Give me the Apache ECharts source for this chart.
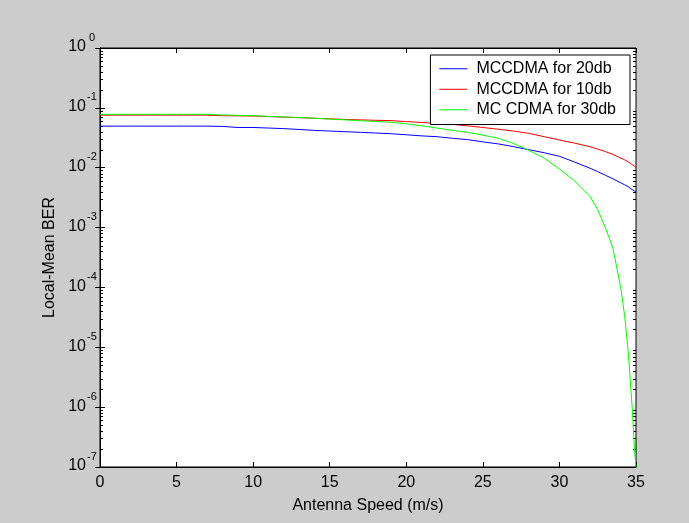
<!DOCTYPE html>
<html>
<head>
    <meta charset="UTF-8">
    <title>Local-Mean BER vs Antenna Speed</title>
    <script type="text/javascript" src="https://cdn.jsdelivr.net/npm/echarts@6/dist/echarts.min.js"></script>
</head>
<body style="margin: 0;overflow: hidden;background: #cccccc;">
<div id="chart" style="width: 689px;height: 523px;"></div>
<script type="text/javascript">
    // antenna speed (m/s)
    var speed = [0, 1, 2, 3, 4, 5, 6, 7, 8, 9, 10, 11, 12, 13, 14, 15, 16, 17, 18, 19, 20,
        21, 22, 23, 24, 25, 26, 27, 28, 29, 30, 31, 32, 32.5, 33, 33.5, 34, 34.25, 34.5, 34.75, 34.9, 35];
    var ber20db = [0.0495, 0.0495, 0.0495, 0.0495, 0.0495, 0.0495, 0.0495, 0.0495, 0.049, 0.047, 0.047,
        0.046, 0.045, 0.0435, 0.042, 0.041, 0.040, 0.039, 0.038, 0.037, 0.0355,
        0.034, 0.033, 0.031, 0.0295, 0.027, 0.025, 0.0225, 0.020, 0.0178, 0.0155,
        0.0124, 0.0098, 0.0086, 0.0075, 0.0065, 0.0056, 0.0052, 0.0048, 0.0043, 0.0041, 0.0040];
    var ber10db = [0.0755, 0.0755, 0.0755, 0.0755, 0.0755, 0.0755, 0.0755, 0.0755, 0.074, 0.0735, 0.073,
        0.0715, 0.070, 0.0685, 0.067, 0.0655, 0.064, 0.063, 0.062, 0.0612, 0.059,
        0.057, 0.055, 0.053, 0.050, 0.047, 0.044, 0.041, 0.0375, 0.033, 0.029,
        0.0257, 0.0224, 0.0205, 0.0186, 0.0167, 0.0145, 0.0136, 0.0125, 0.0113, 0.0106, 0.0100];
    var ber30db = [0.078, 0.078, 0.078, 0.078, 0.078, 0.078, 0.078, 0.078, 0.076, 0.075, 0.074,
        0.072, 0.0705, 0.069, 0.067, 0.065, 0.063, 0.061, 0.059, 0.0575, 0.054,
        0.050, 0.046, 0.042, 0.039, 0.035, 0.031, 0.0255, 0.0195, 0.0145, 0.0095,
        0.0060, 0.0033, 0.0020, 0.001, 0.00045, 0.0001, 3.5e-5, 8e-6, 1e-6, 2e-7, 1e-7];
    var seriesNames = ['MCCDMA for 20db', 'MCCDMA for 10db', 'MC CDMA for 30db'];
    var seriesColors = ['#0000ff', '#ff0000', '#00ff00'];

    // log minor tick positions (2..9 x 10^k)
    var minorTicks = [];
    for (var k = -7; k < 0; k++) {
        for (var m = 2; m <= 9; m++) {
            minorTicks.push([0, m * Math.pow(10, k)]);
        }
    }

    var font = 'Liberation Sans, Arial, sans-serif';

    function pairs(ys) {
        return speed.map(function (x, i) {
            return [x, ys[i]];
        });
    }

    function lineSeries(name, ys, color) {
        return {
            name: name,
            type: 'line',
            data: pairs(ys),
            symbol: 'none',
            lineStyle: {color: color, width: 1},
            itemStyle: {color: color},
            animation: false,
            z: 3
        };
    }

    var chart = echarts.init(document.getElementById('chart'));
    var option = {
        backgroundColor: '#cccccc',
        animation: false,
        textStyle: {fontFamily: font},
        grid: {
            left: 100, right: 53, top: 48, bottom: 56,
            show: true, backgroundColor: '#ffffff', borderColor: '#000', borderWidth: 1
        },
        legend: {
            orient: 'vertical',
            align: 'left',
            right: 59, top: 55,
            padding: [5, 14, 6, 9],
            itemGap: 3,
            itemWidth: 28,
            itemHeight: 1,
            icon: 'rect',
            backgroundColor: '#ffffff',
            borderColor: '#000',
            borderWidth: 1,
            textStyle: {fontFamily: font, fontSize: 16, color: '#000', lineHeight: 17.5, padding: [0, 0, 0, 4]},
            data: seriesNames
        },
        xAxis: [{
            type: 'value',
            min: 0, max: 35, interval: 5,
            name: 'Antenna Speed (m/s)',
            nameLocation: 'middle',
            nameGap: 31,
            nameTextStyle: {fontFamily: font, fontSize: 16, color: '#000'},
            axisLine: {lineStyle: {color: '#000'}},
            axisTick: {inside: true, length: 5, lineStyle: {color: '#000'}},
            axisLabel: {fontFamily: font, fontSize: 16, color: '#000', margin: 8},
            splitLine: {show: false}
        }, {
            type: 'value',
            position: 'top',
            min: 0, max: 35, interval: 5,
            axisLine: {lineStyle: {color: '#000'}},
            axisTick: {inside: true, length: 5, lineStyle: {color: '#000'}},
            axisLabel: {show: false},
            splitLine: {show: false}
        }],
        yAxis: [{
            type: 'log',
            logBase: 10,
            min: 1e-7, max: 1,
            name: 'Local-Mean BER',
            nameLocation: 'middle',
            nameGap: 42,
            nameTextStyle: {fontFamily: font, fontSize: 16, color: '#000'},
            axisLine: {lineStyle: {color: '#000'}},
            axisTick: {inside: true, length: 5, lineStyle: {color: '#000'}},
            axisLabel: {
                margin: 2,
                padding: [0, 0, 9, 0],
                formatter: function (v) {
                    return '{b|10}{s|' + Math.round(Math.log10(v)) + '}';
                },
                rich: {
                    b: {fontFamily: font, fontSize: 16, color: '#000', padding: [7, 0, 0, 0], verticalAlign: 'bottom'},
                    s: {fontFamily: font, fontSize: 11, color: '#000', verticalAlign: 'top', width: 12, align: 'left'}
                }
            },
            splitLine: {show: false}
        }, {
            type: 'log',
            logBase: 10,
            position: 'right',
            min: 1e-7, max: 1,
            axisLine: {lineStyle: {color: '#000'}},
            axisTick: {inside: true, length: 5, lineStyle: {color: '#000'}},
            axisLabel: {show: false},
            splitLine: {show: false}
        }],
        series: [
            lineSeries(seriesNames[0], ber20db, seriesColors[0]),
            lineSeries(seriesNames[1], ber10db, seriesColors[1]),
            lineSeries(seriesNames[2], ber30db, seriesColors[2]),
            {
                type: 'custom',
                silent: true,
                animation: false,
                z: 2,
                data: minorTicks,
                renderItem: function (params, api) {
                    var cs = params.coordSys;
                    var y = Math.round(api.coord([0, api.value(1)])[1]) + 0.5;
                    return {
                        type: 'group',
                        children: [{
                            type: 'line',
                            shape: {x1: cs.x, y1: y, x2: cs.x + 3, y2: y},
                            style: {stroke: '#000', lineWidth: 1}
                        }, {
                            type: 'line',
                            shape: {x1: cs.x + cs.width - 3, y1: y, x2: cs.x + cs.width, y2: y},
                            style: {stroke: '#000', lineWidth: 1}
                        }]
                    };
                }
            }
        ]
    };
    chart.setOption(option);
</script>
</body>
</html>
